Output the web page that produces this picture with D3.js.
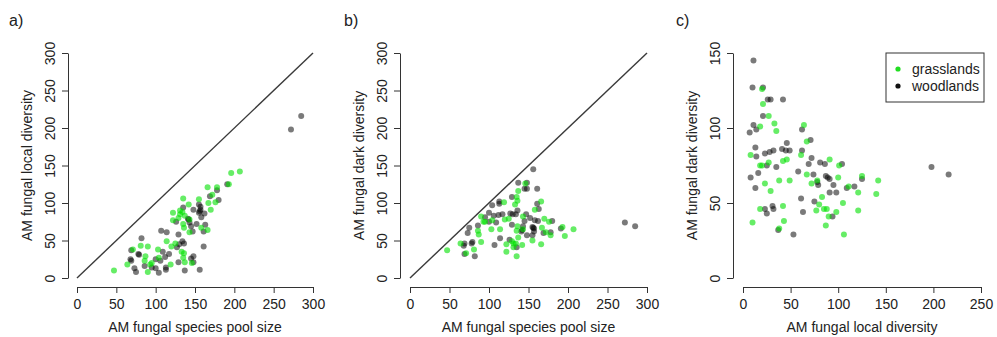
<!DOCTYPE html>
<html>
<head>
<meta charset="utf-8">
<script src="https://cdn.jsdelivr.net/npm/d3@7"></script>
<style>
  body { margin: 0; background: #fff; }
  svg { font-family: "Liberation Sans", Arial, sans-serif; }
</style>
</head>
<body>
<svg id="chart" width="997" height="337"></svg>
<script>
// site data: habitat, local diversity, dark diversity (pool = local + dark)
const habitat = [
  'W','W','W','W','W','W','W','W','W','W','W','W','W','W','W','W','W','W','W','W',
  'W','W','W','W','W','W','W','W','W','W','W','W','W','W','W','W','W','W','W','W',
  'W','W','W','W','W','W','W','W','W','W','W','W','W','W','W','W','W',
  'G','G','G','G','G','G','G','G','G','G','G','G','G','G','G','G','G','G','G','G',
  'G','G','G','G','G','G','G','G','G','G','G','G','G','G','G','G','G','G','G','G',
  'G','G','G','G','G','G'
];
const localDiv = [
  11, 10, 21, 26, 29, 42, 11, 7, 14, 21, 62, 71, 46, 13, 14, 23, 28, 32, 41, 45,
  49, 25, 35, 62, 69, 72, 81, 86, 58, 74, 78, 79, 87, 91, 89, 95, 91, 98, 109, 117,
  125, 104, 8, 13, 16, 61, 75, 23, 31, 32, 63, 25, 37, 53, 94, 198, 216,
  20, 21, 27, 33, 35, 18, 64, 67, 8, 18, 20, 42, 46, 61, 23, 29, 38, 49, 67, 72,
  78, 91, 101, 100, 111, 121, 125, 142, 140, 83, 80, 85, 88, 105, 121, 98, 90, 77, 18, 42,
  10, 43, 87, 106, 38, 27
];
const darkDiv = [
  145, 127, 127, 119, 119, 119, 102, 97, 99, 108, 99, 92, 90, 87, 81, 83, 84, 85, 86, 85,
  85, 75, 74, 85, 76, 80, 77, 76, 71, 69, 64, 62, 68, 66, 67, 62, 57, 57, 60, 61,
  66, 76, 67, 60, 70, 53, 51, 46, 48, 46, 44, 43, 32, 29, 41, 74, 69,
  126, 116, 108, 103, 98, 101, 102, 91, 82, 75, 75, 78, 79, 82, 63, 58, 65, 65, 69, 63,
  65, 79, 75, 67, 61, 57, 68, 65, 56, 54, 49, 46, 46, 50, 45, 44, 41, 45, 46, 48,
  37, 38, 35, 29, 33, 77
];
const poolTicks = [0, 50, 100, 150, 200, 250, 300];
const localTicks = [0, 50, 100, 150, 200, 250];
const darkTicks = [0, 50, 100, 150];
const legendLabels = ['grasslands', 'woodlands'];

const sites = habitat.map((h, i) => ({
  h: h, local: localDiv[i], dark: darkDiv[i], pool: localDiv[i] + darkDiv[i]
}));

const fill = { G: 'rgba(0,225,0,0.6)', W: 'rgba(0,0,0,0.52)' };

const svg = d3.select('#chart');

function panel(opt) {
  const x = d3.scaleLinear().domain(opt.xDomain).range(opt.xRange);
  const y = d3.scaleLinear().domain(opt.yDomain).range([278, 53]);
  const g = svg.append('g');

  // x axis
  const xa = g.append('g')
    .attr('transform', 'translate(0,287)')
    .call(d3.axisBottom(x).tickValues(opt.xTicks).tickSize(6).tickSizeOuter(0).tickPadding(6));
  // y axis
  const ya = g.append('g')
    .attr('transform', `translate(${opt.yAxisX},0)`)
    .call(d3.axisLeft(y).tickValues(opt.yTicks).tickSize(6).tickSizeOuter(0));
  [xa, ya].forEach(a => {
    a.selectAll('path, line').attr('stroke', '#333').attr('stroke-width', 1);
    a.selectAll('text').attr('fill', '#222').style('font-size', '14px');
  });
  ya.selectAll('.tick text')
    .attr('x', null).attr('dy', null)
    .attr('text-anchor', 'middle')
    .attr('transform', 'translate(-13,0) rotate(-90)');

  // titles
  g.append('text')
    .attr('x', (opt.xRange[0] + opt.xRange[1]) / 2).attr('y', 332)
    .attr('text-anchor', 'middle').style('font-size', '14px').attr('fill', '#222')
    .text(opt.xTitle);
  g.append('text')
    .attr('transform', `translate(${opt.yAxisX - 36},${(53 + 278) / 2}) rotate(-90)`)
    .attr('text-anchor', 'middle').style('font-size', '14px').attr('fill', '#222')
    .text(opt.yTitle);
  g.append('text')
    .attr('x', opt.labelX).attr('y', 26)
    .style('font-size', '16px').attr('fill', '#222')
    .text(opt.label);

  if (opt.diagonal) {
    g.append('line')
      .attr('x1', x(0)).attr('y1', y(0))
      .attr('x2', x(300)).attr('y2', y(300))
      .attr('stroke', '#3a3a3a').attr('stroke-width', 1.4);
  }

  g.append('g').selectAll('circle')
    .data(sites)
    .join('circle')
    .attr('cx', d => x(d[opt.xKey]))
    .attr('cy', d => y(d[opt.yKey]))
    .attr('r', 3)
    .attr('fill', d => fill[d.h]);
  return { x, y, g };
}

panel({
  label: 'a)', labelX: 9, xDomain: [0, 300], xRange: [77, 313], yDomain: [0, 300], yAxisX: 68,
  xTicks: poolTicks, yTicks: poolTicks, xKey: 'pool', yKey: 'local', diagonal: true,
  xTitle: 'AM fungal species pool size', yTitle: 'AM fungal local diversity'
});
panel({
  label: 'b)', labelX: 344, xDomain: [0, 300], xRange: [410, 647], yDomain: [0, 300], yAxisX: 400,
  xTicks: poolTicks, yTicks: poolTicks, xKey: 'pool', yKey: 'dark', diagonal: true,
  xTitle: 'AM fungal species pool size', yTitle: 'AM fungal dark diversity'
});
panel({
  label: 'c)', labelX: 676, xDomain: [0, 250], xRange: [743, 981], yDomain: [0, 150], yAxisX: 733,
  xTicks: localTicks, yTicks: darkTicks, xKey: 'local', yKey: 'dark', diagonal: false,
  xTitle: 'AM fungal local diversity', yTitle: 'AM fungal dark diversity'
});

// legend
const lg = svg.append('g').attr('transform', 'translate(886,53)');
lg.append('rect').attr('width', 98).attr('height', 49)
  .attr('fill', '#fff').attr('stroke', '#333').attr('stroke-width', 1);
const legendColors = ['#22dd22', '#111'];
legendLabels.forEach((t, i) => {
  lg.append('circle').attr('cx', 12).attr('cy', 16 + i * 17).attr('r', 2.6).attr('fill', legendColors[i]);
  lg.append('text').attr('x', 26).attr('y', 21 + i * 17)
    .style('font-size', '14px').attr('fill', '#222').text(t);
});
</script>
</body>
</html>
